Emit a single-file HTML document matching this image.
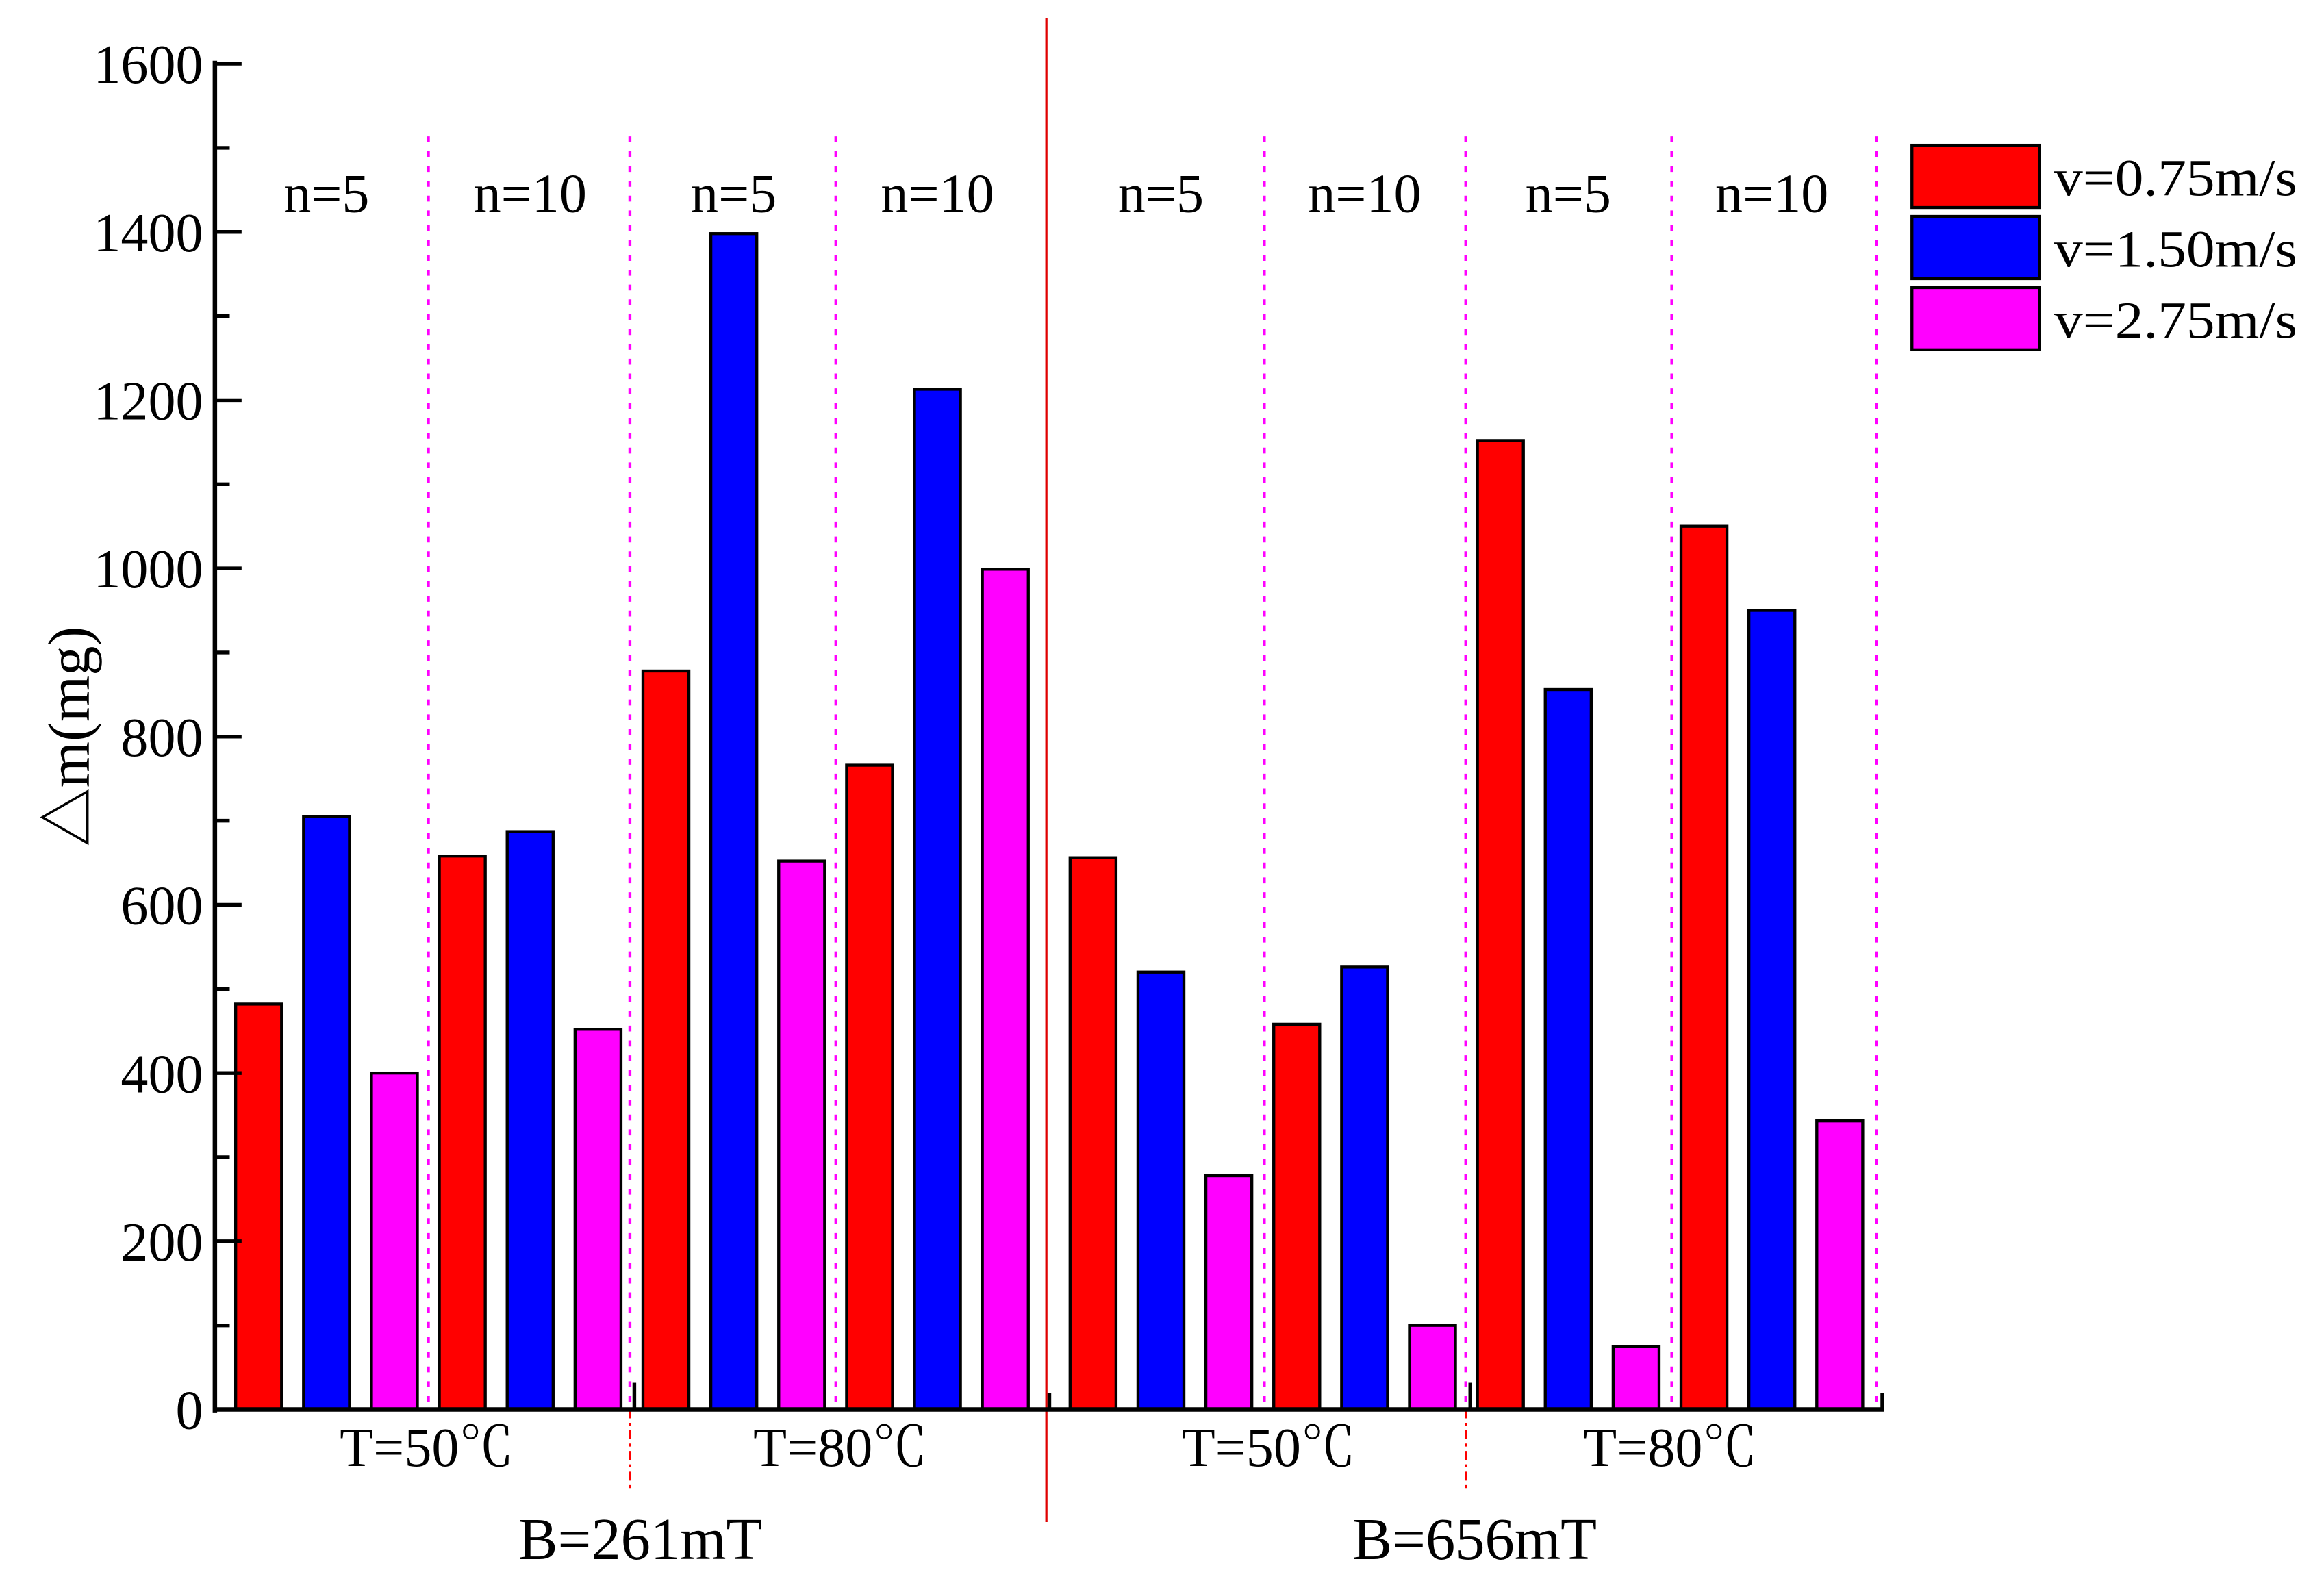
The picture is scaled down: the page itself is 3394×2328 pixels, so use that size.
<!DOCTYPE html>
<html><head><meta charset="utf-8"><style>html,body{margin:0;padding:0;background:#fff}svg{display:block}</style></head>
<body>
<svg id="chart" width="3394" height="2328" viewBox="0 0 1568 1075.5" preserveAspectRatio="none" xmlns="http://www.w3.org/2000/svg" font-family="'Liberation Serif', 'Noto Serif CJK SC', serif">
<g id="grid"></g><g id="bars"></g><g id="axes"></g><g id="labels"></g>
<g font-size="35">
<rect x="1290" y="98" width="86" height="42" fill="#ff0000" stroke="#000" stroke-width="2"/>
<text x="1386" y="132" textLength="164" lengthAdjust="spacingAndGlyphs">v=0.75m/s</text>
<rect x="1290" y="146" width="86" height="42" fill="#0000ff" stroke="#000" stroke-width="2"/>
<text x="1386" y="180" textLength="164" lengthAdjust="spacingAndGlyphs">v=1.50m/s</text>
<rect x="1290" y="194" width="86" height="42" fill="#ff00ff" stroke="#000" stroke-width="2"/>
<text x="1386" y="228" textLength="164" lengthAdjust="spacingAndGlyphs">v=2.75m/s</text>
</g>
</svg>
<script>
const groups = ["B261-T50-n5","B261-T50-n10","B261-T80-n5","B261-T80-n10","B656-T50-n5","B656-T50-n10","B656-T80-n5","B656-T80-n10"];
const v075 = [482,658,878,766,656,458,1152,1050];
const v150 = [705,687,1398,1213,520,526,856,950];
const v275 = [400,452,652,999,278,100,75,343];
const yTicks = [0,200,400,600,800,1000,1200,1400,1600];
const nLabels = ["n=5","n=10","n=5","n=10","n=5","n=10","n=5","n=10"];
const tLabels = ["T=50℃","T=80℃","T=50℃","T=80℃"];
const bLabels = ["B=261mT","B=656mT"];

const NS="http://www.w3.org/2000/svg";
const X0=145, XEND=1270, Y0=951, Y1600=43;
const y = v => Y0 - v*(Y0-Y1600)/1600;
const step=45.8, bw=31;
const barX = (g,s) => (g<4?159:722) + ((g%4)*3+s)*step;
function mk(tag,attrs,parent){const e=document.createElementNS(NS,tag);for(const k in attrs)e.setAttribute(k,attrs[k]);document.getElementById(parent).appendChild(e);return e;}

const series=[v075,v150,v275], colors=["#ff0000","#0000ff","#ff00ff"], sn=["075","150","275"];
groups.forEach((g,gi)=>{
  series.forEach((arr,si)=>{
    const r=mk('rect',{x:barX(gi,si),y:y(arr[gi]),width:bw,height:Y0-y(arr[gi]),fill:colors[si],stroke:'#000','stroke-width':2},'bars');
    
    
  });
  const cx=(barX(gi,0)+barX(gi,2)+bw)/2;
  const t=mk('text',{x:cx,y:143,'font-size':37,'text-anchor':'middle'},'labels');
  t.textContent=nLabels[gi];
  
  
});
const sepXs=[289,425,564,853,989,1128,1266];
sepXs.forEach(sx=>{
 const l=mk('line',{x1:sx,x2:sx,y1:92,y2:951,stroke:'#ff00ff','stroke-width':2,'stroke-dasharray':'4,6'},'grid');
 
});
[425,989].forEach(sx=>{
 const d=mk('line',{x1:sx,x2:sx,y1:951,y2:1007,stroke:'#ff0000','stroke-width':1.5,'stroke-dasharray':'6,3,2,3'},'grid');
 
 const tk=mk('line',{x1:sx+3,x2:sx+3,y1:951,y2:933,stroke:'#000','stroke-width':2.5},'axes');
 });
{const sx=706;
 const l=mk('line',{x1:sx,x2:sx,y1:12,y2:1027,stroke:'#e00000','stroke-width':1.5},'grid');
 
 const tk=mk('line',{x1:sx+2,x2:sx+2,y1:951,y2:940,stroke:'#000','stroke-width':2.5},'axes');
 }
{const tk=mk('line',{x1:XEND,x2:XEND,y1:951,y2:940,stroke:'#000','stroke-width':2.5},'axes');
 }
const tXs=[288,567,856,1127];
tLabels.forEach((s,i)=>{
 const t=mk('text',{x:tXs[i],y:989,'font-size':37,'text-anchor':'middle'},'labels');t.textContent=s;
 });
bLabels.forEach((s,i)=>{const cx=i===0?432:995;
 const t=mk('text',{x:cx,y:1052,'font-size':40,'text-anchor':'middle'},'labels');t.textContent=s;
 });
{const a=mk('line',{x1:X0,x2:X0,y1:Y1600-2,y2:Y0+2,stroke:'#000','stroke-width':3},'axes');
 const b=mk('line',{x1:X0-1,x2:XEND+1,y1:Y0,y2:Y0,stroke:'#000','stroke-width':3},'axes');}
yTicks.forEach((v,i)=>{
 const tk=mk('line',{x1:X0,x2:X0+18,y1:y(v),y2:y(v),stroke:'#000','stroke-width':2.5},'axes');
 
 if(i<yTicks.length-1){const m=mk('line',{x1:X0,x2:X0+10,y1:y(v+100),y2:y(v+100),stroke:'#000','stroke-width':2.5},'axes');
  }
 const t=mk('text',{x:137,y:y(v)+13,'font-size':37,'text-anchor':'end'},'labels');t.textContent=v;
 
});
{const t=mk('text',{x:0,y:0,'font-size':40,'text-anchor':'middle',transform:'translate(60,497) rotate(-90)'},'labels');
 t.textContent='△m(mg)';}
</script>
</body></html>
